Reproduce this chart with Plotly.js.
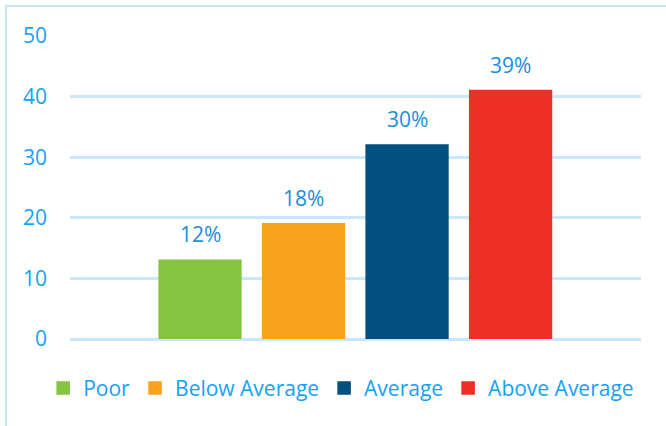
<!DOCTYPE html>
<html>
<head>
<meta charset="utf-8">
<script src="https://cdn.plot.ly/plotly-3.0.1.min.js"></script>
<style>
  html, body { margin: 0; padding: 0; background: #ffffff; }
  #wrap { position: relative; width: 666px; height: 426px; overflow: hidden; }
  #chart { position: absolute; left: 0; top: 0; width: 666px; height: 426px; }
  #frame { position: absolute; left: 5px; top: 5px; width: 700px; height: 500px;
           border-top: 2px solid #c6e5fb; border-left: 2px solid #c6e5fb; pointer-events: none; }
</style>
</head>
<body>
<div id="wrap">
  <div id="chart"></div>
  <div id="frame"></div>
</div>
<script>
// Data
const categories = ["Poor", "Below Average", "Average", "Above Average"];
const values = [13, 19, 32, 41];
const labels = ["12%", "18%", "30%", "39%"];
const colors = ["#84c441", "#f8a31b", "#02507f", "#ee3024"];
const yTicks = [0, 10, 20, 30, 40, 50];

const FONT = "'Open Sans', 'Noto Sans', sans-serif";
const TICK_COLOR = "#15a2f6";
const LABEL_COLOR = "#1a8ee0";

const traces = categories.map((name, i) => ({
  type: "bar",
  name: name,
  x: [i],
  y: [values[i]],
  width: 0.79,
  marker: { color: colors[i], line: { width: 1.5, color: colors[i] } },
  hoverinfo: "name+y"
}));

const annotations = categories.map((name, i) => ({
  x: i,
  y: values[i],
  xref: "x",
  yref: "y",
  text: labels[i],
  showarrow: false,
  yanchor: "middle",
  yshift: 26,
  font: { family: FONT, size: 21, color: LABEL_COLOR }
}));

const layout = {
  width: 666,
  height: 426,
  margin: { l: 70, r: 25, t: 36, b: 87, pad: 0 },
  paper_bgcolor: "#ffffff",
  plot_bgcolor: "#ffffff",
  barmode: "overlay",
  showlegend: true,
  legend: {
    orientation: "h",
    x: -0.047,
    xanchor: "left",
    y: -0.095,
    yanchor: "top",
    font: { family: FONT, size: 21, color: TICK_COLOR },
    traceorder: "normal",
    itemclick: false,
    itemdoubleclick: false
  },
  xaxis: {
    range: [-1.256, 4.26],
    showticklabels: false,
    showgrid: false,
    zeroline: false,
    showline: false,
    ticks: "",
    fixedrange: true
  },
  yaxis: {
    range: [0, 50],
    tickvals: yTicks,
    ticktext: yTicks.map(String),
    showgrid: true,
    gridcolor: "#cbe7fb",
    gridwidth: 2.5,
    zeroline: true,
    zerolinecolor: "#cbe7fb",
    zerolinewidth: 2.5,
    showline: false,
    ticks: "",
    ticklabelstandoff: 22,
    tickfont: { family: FONT, size: 21, color: TICK_COLOR },
    fixedrange: true
  },
  annotations: annotations
};

Plotly.newPlot("chart", traces, layout, { displayModeBar: false });
</script>
</body>
</html>
